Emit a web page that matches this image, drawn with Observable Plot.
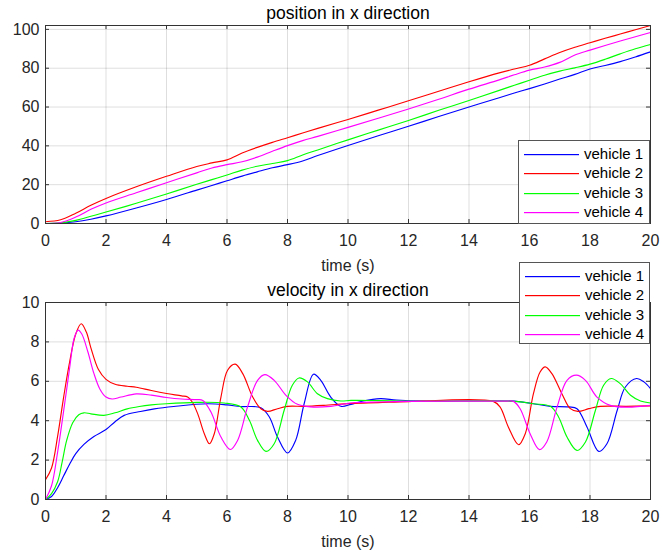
<!DOCTYPE html>
<html>
<head>
<meta charset="utf-8">
<script src="https://cdn.jsdelivr.net/npm/d3@7"></script>
<script src="https://cdn.jsdelivr.net/npm/@observablehq/plot@0.6"></script>
<style>
  body { margin: 0; background: #fff; }
  #wrap { position: relative; width: 660px; height: 554px; font-family: "Liberation Sans", Arial, sans-serif; color: #262626; }
  #wrap > svg { position: absolute; left: 0; }
  .legend { position: absolute; background: #fff; border: 1px solid #555; box-sizing: border-box; font-size: 15px; color: #000; }
  .legend .row { position: absolute; left: 0; height: 18px; width: 100%; }
  .legend .row svg { position: absolute; left: 5px; top: 0; }
  .legend .row span { position: absolute; left: 65px; top: 0; line-height: 18px; white-space: nowrap; }
</style>
</head>
<body>
<div id="wrap"></div>
<script>
// ---------- data ----------
const seriesNames = ["vehicle 1", "vehicle 2", "vehicle 3", "vehicle 4"];
const seriesColors = ["#0000ff", "#ff0000", "#00ff00", "#ff00ff"];
const xTicks = [0, 2, 4, 6, 8, 10, 12, 14, 16, 18, 20];
const posTicks = [0, 20, 40, 60, 80, 100];
const velTicks = [0, 2, 4, 6, 8, 10];
const titles = ["position in x direction", "velocity in x direction"];
const xLabel = "time (s)";

// position (shared time grid)
const posTime = [0,0.5,1,1.5,2, 3,4,5, 5.5,6,6.5,7,7.5,8,8.5,9, 10,11,12,13,14,15, 15.5,16,16.5,17,17.5,18,18.5,19,19.5,20];
const pos1 = [0,0.2,0.9,2.2,3.9, 8,12.4,17.2, 19.6,22,24.4,26.6,28.7,30.3,32.2,35, 40.2,45.2,50.1,55.1,60,64.8, 67.2,69.5,71.9,74.4,76.8,79.6,81.4,83.4,85.8,88.4];
const pos2 = [0.9,1.9,5.3,9.4,12.9, 18.9,24.3,29.4, 31.2,32.8,36.3,39.2,41.8,44.2,46.6,49, 53.6,58.4,63.2,68.1,73,77.6, 79.6,81.5,84.8,88.1,90.8,93.1,95.4,97.6,99.8,102];
const pos3 = [0,0.3,1.6,3.7,5.9, 10.4,15.2,20.2, 22.6,25,27.5,29.5,30.9,32.4,35.3,37.9, 43.1,48.1,53.1,58.3,63.4,68.6, 71.2,73.8,76.4,78.5,80.2,82.1,84.6,87.4,90,92.2];
const pos4 = [0,0.5,3.3,7.3,10.6, 15.8,21,26.1, 28.6,30.3,31.8,34.2,37.2,40.1,42.7,44.9, 49.5,54.2,59,64,69.2,74, 76.6,79,80.6,83,86.8,89.3,91.7,94,96.2,98.4];

// velocity ([time, value] per vehicle)
const vel1 = [[0,0],[0.2,0.15],[0.4,0.6],[0.6,1.2],[0.8,1.8],[1.0,2.33],[1.27,2.8],[1.6,3.2],[2.0,3.55],[2.3,3.95],[2.6,4.27],[3.14,4.47],[3.6,4.6],[4.24,4.72],[5.35,4.86],[6.0,4.8],[6.45,4.72],[7.12,4.66],[7.4,4.19],[7.67,3.17],[8.0,2.36],[8.27,3.0],[8.55,4.86],[8.86,6.36],[9.1,6.05],[9.43,5.2],[9.76,4.73],[10.1,4.83],[10.5,5.0],[11.07,5.12],[11.6,5.05],[12.5,4.99],[15.5,4.99],[16.13,4.86],[16.69,4.73],[17.3,4.7],[17.57,4.61],[17.9,3.68],[18.29,2.44],[18.56,2.83],[18.9,4.53],[19.17,5.71],[19.54,6.14],[19.78,5.97],[20,5.63]];
const vel2 = [[0,1.0],[0.2,1.6],[0.4,3.2],[0.6,5.2],[0.8,7.0],[1.0,8.4],[1.18,8.92],[1.35,8.5],[1.5,7.7],[1.75,6.6],[2.0,6.1],[2.3,5.85],[2.7,5.75],[3.0,5.7],[3.5,5.53],[4.0,5.38],[4.5,5.26],[4.7,5.2],[4.85,4.95],[5.03,4.36],[5.25,3.34],[5.42,2.83],[5.58,3.34],[5.8,5.2],[6.02,6.56],[6.27,6.87],[6.52,6.39],[6.85,5.2],[7.12,4.61],[7.34,4.47],[7.67,4.61],[8.0,4.73],[8.55,4.73],[9.2,4.78],[10.1,4.88],[11,4.92],[12,4.97],[14.8,4.98],[15.03,4.69],[15.3,3.68],[15.64,2.78],[15.86,3.34],[16.13,5.37],[16.35,6.47],[16.52,6.73],[16.74,6.39],[17.07,5.37],[17.35,4.61],[17.6,4.47],[17.96,4.61],[18.34,4.73],[19.2,4.73],[20,4.75]];
const vel3 = [[0,0],[0.2,0.3],[0.4,0.9],[0.55,1.9],[0.7,3.0],[0.9,3.9],[1.1,4.3],[1.27,4.4],[1.5,4.35],[1.93,4.27],[2.3,4.4],[2.7,4.6],[3.1,4.72],[3.5,4.8],[4.0,4.86],[5.0,4.93],[5.9,4.9],[6.46,4.7],[6.74,4.02],[7.01,3.0],[7.29,2.44],[7.56,2.83],[7.89,4.53],[8.16,5.8],[8.38,6.17],[8.66,5.97],[8.99,5.37],[9.32,5.12],[9.76,5.0],[10.1,5.03],[11,5.02],[12,4.99],[15.5,4.98],[16.13,4.86],[16.69,4.73],[16.96,4.19],[17.24,3.17],[17.57,2.49],[17.85,2.92],[18.18,4.53],[18.45,5.8],[18.7,6.14],[19.0,5.88],[19.34,5.29],[19.67,5.0],[20,4.9]];
const vel4 = [[0,0],[0.2,0.7],[0.4,2.4],[0.6,4.5],[0.8,6.7],[0.95,8.2],[1.08,8.6],[1.2,8.4],[1.4,7.5],[1.6,6.4],[1.8,5.6],[2.0,5.2],[2.2,5.1],[2.5,5.2],[3.0,5.36],[3.5,5.3],[4.0,5.18],[4.5,5.1],[5.0,5.07],[5.2,5.03],[5.47,4.44],[5.8,3.17],[6.11,2.54],[6.35,3.0],[6.68,4.7],[7.01,6.05],[7.25,6.34],[7.56,6.05],[7.95,5.29],[8.33,4.83],[8.77,4.7],[9.43,4.73],[10.1,4.9],[11,4.95],[12,4.98],[15.2,4.99],[15.47,4.98],[15.69,4.61],[16.02,3.34],[16.33,2.53],[16.57,2.92],[16.91,4.69],[17.24,6.05],[17.55,6.31],[17.85,6.05],[18.23,5.2],[18.67,4.78],[19.23,4.69],[20,4.78]];

// ---------- build ----------
const posRows = [pos1, pos2, pos3, pos4].flatMap((vals, k) => posTime.map((t, i) => ({t, v: vals[i], s: seriesNames[k]})));
const velRows = [vel1, vel2, vel3, vel4].flatMap((pts, k) => pts.map(([t, v]) => ({t, v, s: seriesNames[k]})));

const W = 660, H = 277;
const mL = 45, mR = 10, mT = 25;
const frameW = W - mL - mR;

function panel(rows, yDomain, yTicks, title, marginBottom) {
  const frameH = H - mT - marginBottom;
  return Plot.plot({
    width: W, height: H,
    marginLeft: mL, marginRight: mR, marginTop: mT, marginBottom: marginBottom,
    style: {fontFamily: '"Liberation Sans", Arial, sans-serif', fontSize: "16px", color: "#262626", background: "transparent", overflow: "visible"},
    x: {domain: [0, 20]},
    y: {domain: yDomain},
    color: {domain: seriesNames, range: seriesColors},
    marks: [
      Plot.gridX(xTicks, {stroke: "#000", strokeOpacity: 0.13}),
      Plot.gridY(yTicks, {stroke: "#000", strokeOpacity: 0.13}),
      Plot.line(rows, {x: "t", y: "v", z: "s", stroke: "s", curve: "catmull-rom", strokeWidth: 1.15}),
      Plot.frame({stroke: "#333"}),
      Plot.tickX(xTicks, {x: d => d, insetTop: frameH - 4, stroke: "#333"}),
      Plot.tickX(xTicks, {x: d => d, insetBottom: frameH - 4, stroke: "#333"}),
      Plot.tickY(yTicks, {y: d => d, insetRight: frameW - 4, stroke: "#333"}),
      Plot.tickY(yTicks, {y: d => d, insetLeft: frameW - 4, stroke: "#333"}),
      Plot.axisX(xTicks, {tickSize: 0, tickPadding: 11, label: null, fontSize: 16}),
      Plot.axisY(yTicks, {tickSize: 0, tickPadding: 6, label: null, fontSize: 16}),
      Plot.text([title], {text: d => d, frameAnchor: "top", lineAnchor: "middle", dy: -12, fontSize: 17.5, fill: "#000"}),
      Plot.text([xLabel], {text: d => d, frameAnchor: "bottom", lineAnchor: "middle", dy: 42, fontSize: 16, fill: "#262626"})
    ]
  });
}

const wrap = document.getElementById("wrap");
const topChart = panel(posRows, [0, 102], posTicks, titles[0], 54);
topChart.style.top = "0px";
wrap.appendChild(topChart);
const botChart = panel(velRows, [0, 10], velTicks, titles[1], 55);
botChart.style.top = "277px";
wrap.appendChild(botChart);

function legend(left, topPx, width, height) {
  const div = document.createElement("div");
  div.className = "legend";
  Object.assign(div.style, {left: left + "px", top: topPx + "px", width: width + "px", height: height + "px"});
  seriesNames.forEach((name, i) => {
    const row = document.createElement("div");
    row.className = "row";
    row.style.top = (4 + i * 19.3) + "px";
    const svg = d3.create("svg").attr("width", 56).attr("height", 18);
    svg.append("rect").attr("x", 0).attr("y", 9).attr("width", 55).attr("height", 1.2)
      .attr("fill", seriesColors[i]);
    row.appendChild(svg.node());
    const span = document.createElement("span");
    span.textContent = name;
    row.appendChild(span);
    div.appendChild(row);
  });
  wrap.appendChild(div);
}
legend(518, 140, 132, 84);
legend(519, 262, 131, 82);
</script>
</body>
</html>
